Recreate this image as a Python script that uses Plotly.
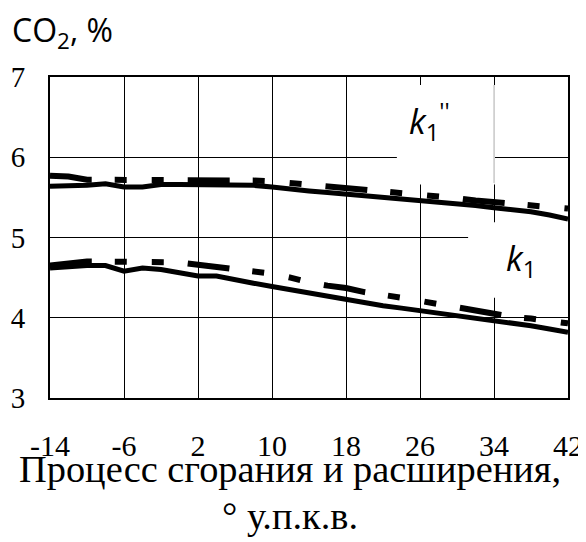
import plotly.graph_objects as go

# ---- data ----
angle = [-14, -12, -10, -8, -6, -4, -2, 0, 2, 4, 6, 8, 10, 12, 14, 16, 18, 20,
         22, 24, 26, 28, 30, 32, 34, 36, 38, 40, 42]

k1pp_solid = [5.64, 5.64, 5.65, 5.67, 5.63, 5.63, 5.66, 5.66, 5.66, 5.66, 5.66, 5.65,
              5.63, 5.60, 5.58, 5.56, 5.54, 5.52, 5.51, 5.49, 5.47, 5.45, 5.42, 5.40,
              5.37, 5.35, 5.32, 5.28, 5.23]
k1pp_dash = [5.77, 5.76, 5.72, 5.72, 5.72, 5.72, 5.72, 5.72, 5.72, 5.72, 5.72, 5.71,
             5.70, 5.68, 5.66, 5.64, 5.62, 5.60, 5.58, 5.56, 5.54, 5.52, 5.49, 5.46,
             5.44, 5.41, 5.39, 5.37, 5.36]
k1_solid = [4.62, 4.64, 4.65, 4.65, 4.58, 4.62, 4.60, 4.56, 4.52, 4.52, 4.47, 4.43,
            4.39, 4.35, 4.30, 4.26, 4.22, 4.18, 4.15, 4.12, 4.09, 4.06, 4.03, 4.00,
            3.97, 3.94, 3.90, 3.86, 3.82]
k1_dash = [4.65, 4.68, 4.70, 4.70, 4.70, 4.70, 4.70, 4.69, 4.66, 4.63, 4.60, 4.57,
           4.55, 4.50, 4.44, 4.40, 4.37, 4.32, 4.29, 4.25, 4.21, 4.17, 4.13, 4.08,
           4.05, 4.01, 3.99, 3.96, 3.93]

x_tickvals = [-14, -6, 2, 10, 18, 26, 34, 42]
x_ticktext = ["-14", "-6", "2", "10", "18", "26", "34", "42"]
y_tickvals = [3, 4, 5, 6, 7]

SERIF = "Liberation Serif, Times New Roman, serif"
SANS = "Open Sans, Liberation Sans, sans-serif"
DASH = "42px,23px,12px,25px,12px,24px"

fig = go.Figure()
for ys, dash, w in [(k1pp_dash, DASH, 6), (k1pp_solid, "solid", 5),
                    (k1_dash, DASH, 6), (k1_solid, "solid", 5)]:
    fig.add_trace(go.Scatter(x=angle, y=ys, mode="lines",
                             line=dict(color="black", width=w, dash=dash),
                             showlegend=False, hoverinfo="skip"))

# white label boxes interrupting the grid
fig.add_shape(type="rect", xref="x", yref="y", x0=23.5, x1=34.1, y0=5.66, y1=6.9,
              fillcolor="white", line=dict(width=0), layer="between")
fig.add_shape(type="rect", xref="x", yref="y", x0=31.2, x1=42, y0=4.25, y1=5.19,
              fillcolor="white", line=dict(width=0), layer="between")
fig.add_shape(type="line", xref="x", yref="y", x0=34, x1=34, y0=5.68, y1=6.9,
              line=dict(color="#b4b4b4", width=1), layer="between")

fig.add_annotation(x=27.0, y=6.45, xref="x", yref="y", showarrow=False,
                   text="<i>k</i><sub>1</sub><sup>''</sup>",
                   font=dict(family=SANS, size=34, color="black"))
fig.add_annotation(x=36.9, y=4.72, xref="x", yref="y", showarrow=False,
                   text="<i>k</i><sub>1</sub>",
                   font=dict(family=SANS, size=34, color="black"))

# x-axis title (two lines)
fig.add_annotation(x=0.4624, y=0, xref="paper", yref="paper", yanchor="top",
                   yshift=-48, showarrow=False,
                   text="Процесс сгорания и расширения,",
                   font=dict(family=SERIF, size=38.4, color="black"))
fig.add_annotation(x=0.4624, y=0, xref="paper", yref="paper", yanchor="top",
                   yshift=-95, showarrow=False,
                   text="° у.п.к.в.",
                   font=dict(family=SERIF, size=38.4, color="black"))

# page adds an 8px body margin, so the figure is 8px smaller than the window
fig.update_layout(
    width=578, height=534,
    margin=dict(l=42, r=18, t=69, b=144, autoexpand=False),
    paper_bgcolor="white", plot_bgcolor="white",
    title=dict(text="CO<sub>2</sub>, %", xref="container", yref="container",
               x=0.007, xanchor="left", y=0.978, yanchor="top", automargin=False,
               font=dict(family=SANS, size=32, color="black")),
)
fig.update_xaxes(range=[-14, 42], tickvals=x_tickvals, ticktext=x_ticktext,
                 showgrid=True, gridcolor="black", gridwidth=1.3,
                 showline=True, linecolor="black", linewidth=2, mirror=True,
                 ticks="", zeroline=False, ticklabelstandoff=20, automargin=False,
                 tickfont=dict(family=SERIF, size=30, color="black"))
fig.update_yaxes(range=[3, 7], tickvals=y_tickvals,
                 showgrid=True, gridcolor="black", gridwidth=1.3,
                 showline=True, linecolor="black", linewidth=2, mirror=True,
                 ticks="", zeroline=False, ticklabelstandoff=17, automargin=False,
                 tickfont=dict(family=SERIF, size=29, color="black"))

fig.write_html("out.html")
